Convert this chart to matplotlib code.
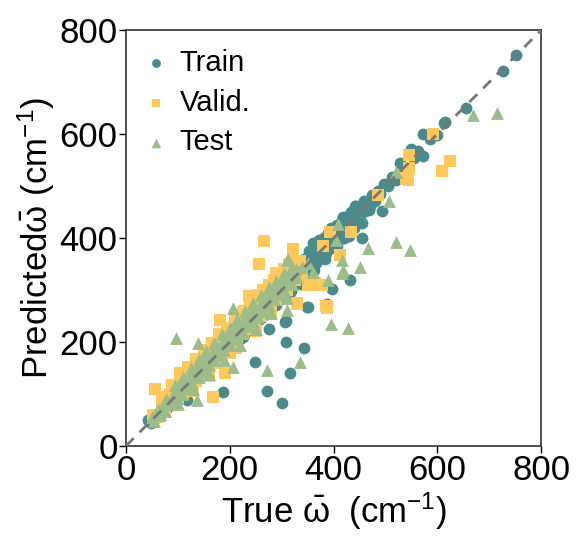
import matplotlib
matplotlib.use("Agg")
import matplotlib.pyplot as plt

plt.rcParams['font.family'] = ['Liberation Sans', 'DejaVu Sans']
plt.rcParams['mathtext.fontset'] = 'custom'
plt.rcParams['mathtext.rm'] = 'Liberation Sans'
plt.rcParams['mathtext.it'] = 'Liberation Sans:italic'
plt.rcParams['mathtext.bf'] = 'Liberation Sans:bold'

train_true = [43, 48, 55, 60, 66, 72, 80, 88, 95, 102, 110, 117, 124, 130, 138, 145, 152, 160, 166, 172,
              180, 187, 190, 198, 205, 212, 220, 228, 235, 242, 249, 250, 258, 265, 271, 272, 276, 280, 286, 292,
              298, 301, 304, 308, 308, 310, 316, 316, 320, 325, 330, 335, 340, 344, 345, 349, 350, 355, 360, 361,
              365, 368, 370, 375, 378, 380, 385, 387, 388, 392, 395, 397, 398, 402, 405, 408, 412, 415, 418, 422,
              425, 428, 432, 432, 435, 438, 442, 445, 448, 452, 454, 455, 460, 465, 470, 475, 480, 485, 490, 494,
              498, 505, 512, 520, 528, 535, 549, 555, 562, 572, 573, 585, 600, 613, 615, 656, 727, 752, 350, 387,
              330, 340, 355, 372, 395, 410, 420, 440, 226, 232, 244, 262, 210, 118, 150, 176, 200, 307,
              282, 290, 296, 303, 312, 318, 323, 328, 333, 338, 343, 348, 353, 358, 363, 367, 373, 377, 382, 386,
              390, 394, 399, 403, 407, 411, 416, 420, 424, 429, 434, 439, 444, 449, 458, 468,
              300, 315, 325, 338, 352, 362, 372, 384, 396, 406, 418, 430, 442, 455]
train_pred = [51, 45, 50, 62, 58, 70, 74, 90, 86, 98, 104, 88, 118, 122, 130, 140, 145, 150, 160, 165,
              172, 104, 180, 188, 196, 200, 205, 215, 228, 230, 162, 240, 245, 258, 106, 262, 226, 270, 275, 280,
              290, 83, 295, 200, 240, 300, 140, 305, 315, 312, 320, 330, 335, 188, 340, 267, 345, 352, 355, 390,
              360, 372, 365, 375, 368, 385, 380, 274, 392, 385, 400, 303, 392, 405, 398, 415, 405, 420, 412, 430,
              418, 435, 319, 425, 442, 430, 448, 438, 455, 445, 400, 462, 452, 470, 462, 482, 472, 490, 485, 452,
              505, 500, 518, 512, 545, 535, 571, 555, 568, 558, 601, 590, 598, 622, 624, 651, 721, 753, 268, 387,
              338, 322, 372, 388, 380, 425, 400, 420, 210, 222, 238, 248, 195, 110, 140, 168, 190, 239,
              300, 272, 310, 285, 325, 298, 338, 318, 348, 322, 360, 335, 370, 342, 380, 352, 392, 362, 400, 372,
              410, 380, 418, 390, 425, 398, 435, 408, 440, 418, 450, 425, 462, 438, 472, 455,
              325, 290, 350, 312, 375, 338, 396, 360, 420, 385, 440, 405, 462, 430]

valid_true = [52, 56, 62, 70, 75, 82, 90, 95, 100, 105, 110, 118, 122, 128, 135, 140, 145, 150, 155, 160,
              165, 168, 172, 178, 181, 185, 190, 191, 195, 200, 205, 210, 213, 215, 220, 225, 230, 235, 238, 242,
              248, 252, 257, 260, 265, 266, 270, 275, 280, 285, 289, 290, 295, 300, 305, 310, 315, 322, 322, 325,
              330, 335, 340, 350, 360, 364, 372, 377, 380, 386, 387, 393, 412, 433, 485, 540, 543, 546, 546, 591,
              609, 624, 329, 290,
              85, 98, 112, 125, 138, 148, 158, 170, 182, 193, 203, 218, 228, 240, 255, 268, 278, 292, 302, 318,
              70, 88, 105, 120, 135, 150, 165, 180, 195, 210, 225, 240, 255, 270, 285, 300, 315, 130, 160, 200,
              250, 280]
valid_pred = [60, 109, 55, 80, 70, 95, 85, 110, 92, 120, 100, 130, 115, 145, 125, 160, 138, 170, 148, 180,
              188, 95, 160, 200, 242, 175, 210, 140, 185, 225, 195, 240, 188, 205, 250, 215, 260, 225, 288, 270,
              235, 285, 351, 250, 300, 394, 260, 310, 275, 320, 333, 280, 330, 295, 340, 300, 350, 367, 379, 320,
              276, 355, 330, 310, 310, 313, 310, 310, 385, 269, 265, 412, 367, 411, 482, 515, 512, 535, 560, 601,
              529, 548, 274, 322,
              100, 115, 128, 140, 150, 168, 172, 190, 198, 215, 222, 235, 245, 262, 272, 290, 298, 312, 325, 335,
              95, 118, 140, 152, 168, 185, 198, 215, 228, 242, 258, 275, 290, 300, 312, 328, 342, 105, 135, 178,
              222, 255]

test_true = [50, 55, 60, 65, 70, 75, 80, 85, 90, 96, 98, 102, 108, 112, 118, 122, 128, 132, 137, 139,
             140, 145, 150, 155, 160, 165, 170, 175, 180, 185, 190, 195, 200, 206, 207, 210, 215, 220, 225, 230,
             235, 240, 245, 250, 255, 260, 265, 270, 272, 275, 280, 285, 290, 295, 300, 305, 310, 311, 313, 315,
             320, 325, 330, 335, 340, 350, 361, 390, 396, 405, 409, 416, 419, 416, 428, 452, 467, 507, 520, 520,
             547, 668, 715,
             62, 78, 92, 105, 115, 125, 135, 147, 157, 167, 178, 188, 198, 208, 218, 228, 238, 248, 258, 268,
             278, 288, 298, 308, 318, 328,
             95, 110, 125, 140, 155, 170, 185, 200, 215, 230, 245, 260, 275, 290, 305, 320, 100, 130, 160, 190,
             220, 250, 280, 310]
test_pred = [55, 48, 65, 60, 75, 68, 85, 80, 95, 207, 92, 108, 100, 118, 112, 130, 122, 140, 88, 198,
             132, 152, 145, 165, 155, 172, 165, 185, 175, 195, 185, 205, 195, 265, 152, 215, 205, 228, 218, 240,
             230, 250, 240, 258, 248, 270, 260, 280, 147, 272, 290, 282, 300, 292, 310, 300, 358, 262, 359, 318,
             312, 330, 325, 162, 345, 352, 335, 319, 235, 396, 428, 358, 338, 332, 227, 344, 380, 471, 393, 528,
             377, 637, 640,
             72, 90, 102, 118, 125, 138, 148, 162, 170, 182, 190, 200, 212, 225, 232, 245, 252, 265, 272, 285,
             295, 305, 318, 322, 338, 340,
             118, 132, 150, 168, 182, 198, 215, 228, 245, 260, 275, 290, 305, 318, 332, 345, 80, 110, 138, 165,
             195, 225, 255, 285]

axis_ticks = [0, 200, 400, 600, 800]

c_train = '#4a8b8b'
c_valid = '#ffc85a'
c_test = '#9cbc8a'

fig = plt.figure(figsize=(5.8, 5.39), dpi=100)
ax = fig.add_axes([0.217, 0.1725, 0.716, 0.7715])

ax.plot([0, 800], [0, 800], ls=(0, (4, 3)), color='#777777', lw=2, zorder=5)
ax.scatter(train_true, train_pred, s=72, marker='o', color=c_train, label='Train', zorder=2, linewidths=0)
ax.scatter(valid_true, valid_pred, s=68, marker='s', color=c_valid, label='Valid.', zorder=3, linewidths=0)
ax.scatter(test_true, test_pred, s=85, marker='^', color=c_test, label='Test', zorder=4, linewidths=0)

ax.set_xlim(0, 800)
ax.set_ylim(0, 800)
ax.set_xticks(axis_ticks)
ax.set_yticks(axis_ticks)
ax.tick_params(direction='out', length=5, width=1, labelsize=25, pad=1)
for s in ax.spines.values():
    s.set_linewidth(1.2)
    s.set_color('#333333')

ax.set_xlabel(r'True $\bar{\mathrm{\omega}}$  (cm$^{-1}$)', fontsize=25, labelpad=2)
ax.set_ylabel(r'Predicted$\bar{\mathrm{\omega}}$ (cm$^{-1}$)', fontsize=25, labelpad=2)

ax.legend(loc='upper left', frameon=False, fontsize=21, handletextpad=0.4, handlelength=0.8,
          borderaxespad=0.45, borderpad=0.2, labelspacing=0.4, markerscale=0.75)

fig.savefig('out.png', dpi=100)
